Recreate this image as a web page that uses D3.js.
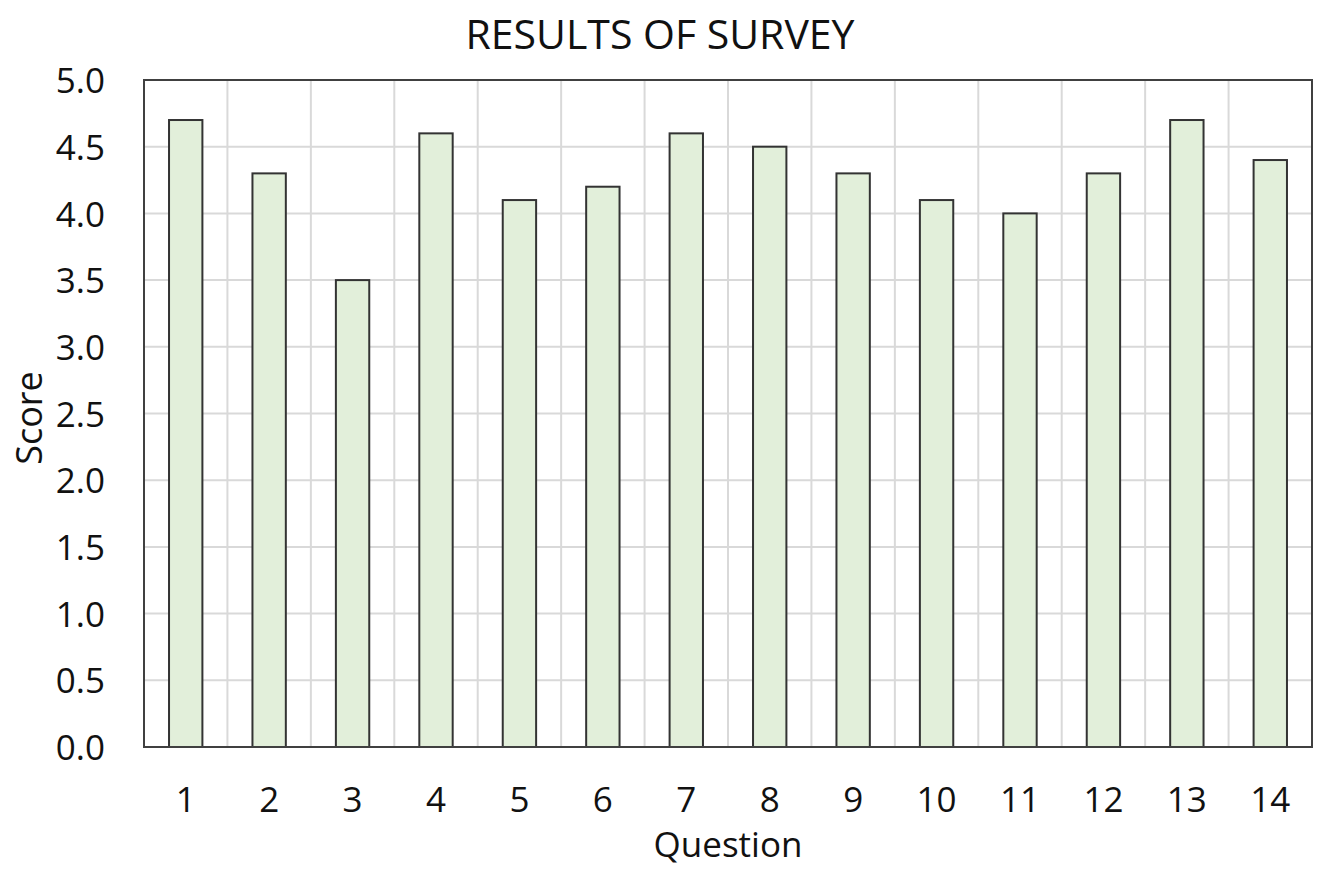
<!DOCTYPE html>
<html><head><meta charset="utf-8">
<script src="https://cdn.jsdelivr.net/npm/d3@7"></script>
<style>body{margin:0;background:#fff;}svg text{font-family:"Open Sans","Noto Sans",sans-serif;fill:#111;}</style>
</head><body><svg id="c" width="1332" height="874"></svg>
<script>
const categories = ["1","2","3","4","5","6","7","8","9","10","11","12","13","14"];
const scores = [4.7,4.3,3.5,4.6,4.1,4.2,4.6,4.5,4.3,4.1,4.0,4.3,4.7,4.4];
const yTicks = [0,0.5,1.0,1.5,2.0,2.5,3.0,3.5,4.0,4.5,5.0];
const title = "RESULTS OF SURVEY", xTitle = "Question", yTitle = "Score";

const svg = d3.select("#c");
const m = {l:144, r:1312, t:80, b:747};
const x = d3.scaleBand().domain(categories).range([m.l, m.r]).paddingInner(0.6).paddingOuter(0.3);
const xb = d3.scaleBand().domain(categories).range([m.l, m.r]);
const y = d3.scaleLinear().domain([0,5]).range([m.b, m.t]);

// gridlines
svg.append("g").selectAll("line").data(yTicks).join("line")
  .attr("x1", m.l).attr("x2", m.r).attr("y1", d=>y(d)).attr("y2", d=>y(d))
  .attr("stroke","#d9d9d9").attr("stroke-width",2);
svg.append("g").selectAll("line").data(categories.slice(1)).join("line")
  .attr("x1", d=>xb(d)).attr("x2", d=>xb(d)).attr("y1", m.t).attr("y2", m.b)
  .attr("stroke","#d9d9d9").attr("stroke-width",2);

// bars
svg.append("g").selectAll("rect").data(categories).join("rect")
  .attr("x", d=>x(d)).attr("width", x.bandwidth())
  .attr("y", (d,i)=>y(scores[i])).attr("height", (d,i)=>y(0)-y(scores[i]))
  .attr("fill","#e2efda").attr("stroke","#333").attr("stroke-width",2);

// frame
svg.append("rect").attr("x",m.l).attr("y",m.t).attr("width",m.r-m.l).attr("height",m.b-m.t)
  .attr("fill","none").attr("stroke","#404040").attr("stroke-width",2);

// axes
const ya = svg.append("g").attr("transform",`translate(${m.l},0)`)
  .call(d3.axisLeft(y).tickValues(yTicks).tickFormat(d3.format(".1f")).tickSize(0).tickPadding(39));
ya.select(".domain").remove();
ya.selectAll("text").attr("font-size",35).attr("font-family","Open Sans").attr("dy","0.36em");
const xa = svg.append("g").attr("transform",`translate(0,${m.b})`)
  .call(d3.axisBottom(xb).tickSize(0).tickPadding(0));
xa.select(".domain").remove();
xa.selectAll("text").attr("font-size",35).attr("font-family","Open Sans").attr("dy",0).attr("y",65);

svg.append("text").attr("x",660).attr("y",49).attr("text-anchor","middle").attr("font-size",41).text(title);
svg.append("text").attr("x",728).attr("y",857).attr("text-anchor","middle").attr("font-size",35).text(xTitle);
svg.append("text").attr("transform",`translate(42,418) rotate(-90)`).attr("text-anchor","middle").attr("font-size",36).text(yTitle);
</script></body></html>
